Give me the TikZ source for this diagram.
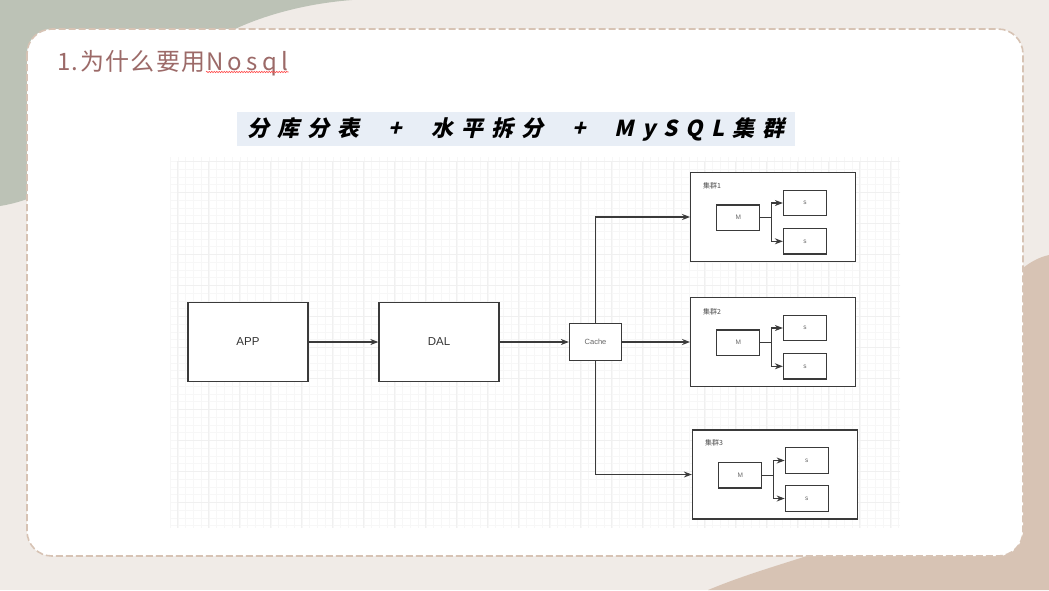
\documentclass[tikz,border=0pt]{standalone}
\usepackage{fontspec}
\setsansfont{Liberation Sans}
\newfontfamily\cjkfont{Noto Sans CJK SC}
\newfontfamily\titlefont[LetterSpace=6]{Noto Sans CJK SC}
\newfontfamily\nosqlfont[LetterSpace=18]{Noto Sans CJK SC}
\newfontfamily\bannerfont[FakeSlant=0.22, LetterSpace=37]{Noto Sans CJK SC}
\usetikzlibrary{arrows.meta, positioning, decorations.pathmorphing}
\definecolor{pagebeige}{RGB}{240,235,231}
\definecolor{sagegreen}{RGB}{188,194,182}
\definecolor{sandtan}{RGB}{215,195,180}
\definecolor{titlerose}{RGB}{156,106,104}
\definecolor{bannerblue}{RGB}{232,238,246}
\definecolor{lineink}{RGB}{58,58,58}

\begin{document}
\begin{tikzpicture}[x=1pt, y=-1pt,
    block/.style={rectangle, draw=lineink, line width=1.3pt, fill=white, minimum width=120pt, minimum height=79pt, align=center, font=\sffamily\fontsize{11.5}{13}\selectfont, text=black!80},
    cachebox/.style={block, minimum width=52pt, minimum height=37pt, font=\sffamily\fontsize{7.5}{9}\selectfont, text=black!60},
    cluster/.style={rectangle, draw=lineink, line width=1.3pt, fill=white, minimum width=165pt, minimum height=89pt},
    dbnode/.style={rectangle, draw=lineink, line width=1.3pt, minimum width=43pt, minimum height=25.5pt, font=\sffamily\fontsize{6.5}{8}\selectfont, text=black!60},
    tag/.style={anchor=west, inner sep=0pt, font=\cjkfont\fontsize{7}{8}\selectfont, text=black!70},
    titletext/.style={anchor=base west, inner sep=0pt, text=titlerose},
    arrow/.style={-{Stealth[length=8pt, width=6pt]}, line width=1.1pt, lineink},
    gridminor/.style={draw=black!3, line width=0.5pt},
    gridmajor/.style={draw=black!6, line width=0.7pt},
    squiggle/.style={draw=red!70, line width=0.6pt, decorate, decoration={snake, amplitude=0.7pt, segment length=2.5pt}}
]
    \useasboundingbox (0,0) rectangle (1049,590);

    % Page background and blobs
    \fill[pagebeige] (0,0) rectangle (1049,590);
    \fill[sagegreen] (0,0) -- (352,0) .. controls (300,4) and (255,18) .. (225,34)
        .. controls (150,80) and (100,190) .. (0,206) -- cycle;
    \fill[sandtan] (1049,255) .. controls (980,270) and (950,420) .. (880,520)
        .. controls (850,550) and (780,560) .. (708,590) -- (1049,590) -- cycle;
    \draw[sandtan, fill=white, line width=1.6pt, dash pattern=on 7pt off 3pt, rounded corners=25pt]
        (27,29) rectangle (1023,556);

    % Title
    \node[titletext, font=\titlefont\fontsize{24}{28}\selectfont] (title) at (57,70) {1.为什么要用};
    \node[titletext, font=\nosqlfont\fontsize{24}{28}\selectfont] (nosql) at (title.base east) {Nosql};
    \draw[squiggle] ([yshift=-2pt]nosql.base west) -- ([yshift=-2pt]nosql.base east);

    % Banner
    \node[rectangle, fill=bannerblue, minimum width=558pt, minimum height=34pt,
          font=\bannerfont\bfseries\fontsize{22}{26}\selectfont] (banner) at (516,129)
        {分库分表\hspace{29pt}+\hspace{29pt}水平拆分\hspace{29pt}+\hspace{29pt}MySQL集群};

    % Grid paper
    \begin{scope}
        \clip (170,157) rectangle (900,527);
        \draw[gridminor, shift={(170,153.5)}] (0,0) grid[step=7.75pt] (730,375);
        \draw[gridmajor, shift={(177.75,161.25)}] (0,0) grid[step=31pt] (730,375);
    \end{scope}

    % Access layers
    \node[block] (app) at (248,342) {APP};
    \node[block] (dal) at (439,342) {DAL};
    \node[cachebox] (cache) at (595.5,342) {Cache};

    % Cluster 1
    \node[cluster] (c1) at (773.2,217) {};
    \node[tag] (t1) at (703,186) {集群1};
    \node[dbnode] (m1) at (738.3,217.7) {M};
    \node[dbnode] (s1a) at (805,203) {s};
    \node[dbnode] (s1b) at (805,241.3) {s};

    % Cluster 2
    \node[cluster] (c2) at (773.2,342) {};
    \node[tag] (t2) at (703,312) {集群2};
    \node[dbnode] (m2) at (738.3,342.7) {M};
    \node[dbnode] (s2a) at (805,328) {s};
    \node[dbnode] (s2b) at (805,366.3) {s};

    % Cluster 3
    \node[cluster] (c3) at (775,474.5) {};
    \node[tag] (t3) at (705,443) {集群3};
    \node[dbnode] (m3) at (740.3,475.2) {M};
    \node[dbnode] (s3a) at (806.8,460.5) {s};
    \node[dbnode] (s3b) at (806.8,498.5) {s};

    % Routing
    \draw[arrow] (app.east) -- (dal.west);
    \draw[arrow] (dal.east) -- (cache.west);
    \draw[arrow] (cache.north) |- (c1.west);
    \draw[arrow] (cache.east) -- (c2.west);
    \draw[arrow] (cache.south) |- (c3.west);

    \draw[arrow] (m1.east) -- ++(11,0) |- (s1a.west);
    \draw[arrow] (m1.east) -- ++(11,0) |- (s1b.west);
    \draw[arrow] (m2.east) -- ++(11,0) |- (s2a.west);
    \draw[arrow] (m2.east) -- ++(11,0) |- (s2b.west);
    \draw[arrow] (m3.east) -- ++(11,0) |- (s3a.west);
    \draw[arrow] (m3.east) -- ++(11,0) |- (s3b.west);
\end{tikzpicture}
\end{document}
